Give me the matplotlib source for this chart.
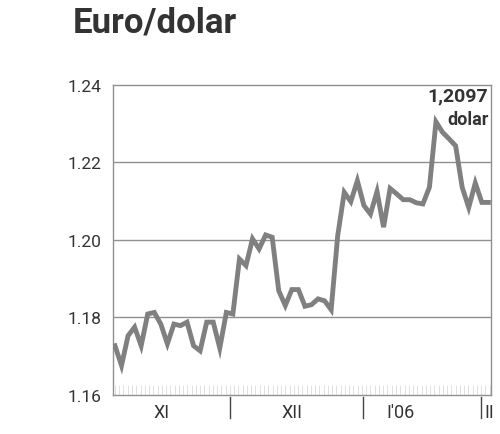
import numpy as np
import matplotlib
matplotlib.use("Agg")
import matplotlib.pyplot as plt
from matplotlib.ticker import MultipleLocator
import matplotlib.transforms as mtransforms

# daily euro/dollar rate, Nov 2005 - early Feb 2006
rate = [1.1727, 1.1676, 1.1753, 1.1775, 1.1727, 1.1809, 1.1813, 1.1783,
        1.1732, 1.1783, 1.1779, 1.1788, 1.1727, 1.1714, 1.1788, 1.1788,
        1.1721, 1.1813, 1.1809, 1.1951, 1.1934, 1.2003, 1.1977, 1.2013,
        1.2007, 1.1869, 1.1831, 1.1872, 1.1872, 1.1829, 1.1833, 1.1848,
        1.1843, 1.1820, 1.2011, 1.2123, 1.2099, 1.2153, 1.2089, 1.2067,
        1.2125, 1.2033, 1.2133, 1.2119, 1.2104, 1.2104, 1.2096, 1.2093,
        1.2136, 1.2305, 1.2278, 1.2261, 1.2243, 1.2136, 1.2084, 1.2147,
        1.2097, 1.2097]
days = np.arange(len(rate))

month_labels = ["XI", "XII", "I'06", "II"]
month_label_pos = [7.1, 27.0, 43.6, 57.2]
month_bounds = [17.56, 37.9, 55.9]
yticks = [1.16, 1.18, 1.20, 1.22, 1.24]

plt.rcParams["font.family"] = ["Roboto", "DejaVu Sans"]
txt = "#333333"
gray = "#808080"

fig = plt.figure(figsize=(5, 4.35), dpi=100)
ax = fig.add_axes([0.226, 0.0897, 0.756, 0.7126])

ax.plot(days, rate, color=gray, lw=3.5, solid_joinstyle="miter", zorder=3)

ax.set_xlim(-0.3, 57.4)
ax.set_ylim(1.16, 1.24)
ax.set_yticks(yticks)
ax.set_yticklabels([f"{v:.2f}" for v in yticks], fontsize=12.5, color=txt)
ax.tick_params(axis="y", length=0, pad=8)
for v in yticks[1:-1]:
    ax.axhline(v, color="#909090", lw=1.0, zorder=1)

for s in ax.spines.values():
    s.set_color("#909090")
    s.set_linewidth(1.0)

ax.set_xticks([])
ax.xaxis.set_minor_locator(MultipleLocator(0.65))
ax.tick_params(axis="x", which="minor", direction="in", length=7,
               width=0.6, color="#dddddd")

trans = mtransforms.blended_transform_factory(ax.transData, ax.transAxes)
for b in month_bounds:
    ax.plot([b, b], [-0.005, -0.075], transform=trans, color="#444444",
            lw=1.0, clip_on=False)
for lab, p in zip(month_labels, month_label_pos):
    ax.text(p, -0.055, lab, transform=trans, ha="center", va="center",
            fontsize=13, color=txt, clip_on=False)

ax.text(0.993, 0.965, "1,2097", transform=ax.transAxes, ha="right",
        va="center", fontsize=14, fontweight="bold", color=txt)
ax.text(0.993, 0.89, "dolar", transform=ax.transAxes, ha="right",
        va="center", fontsize=13, fontweight="semibold", color=txt)

fig.text(0.146, 0.948, "Euro/dolar", ha="left", va="center", fontsize=25,
         fontweight="bold", color=txt)

fig.savefig("out.png", dpi=100)
